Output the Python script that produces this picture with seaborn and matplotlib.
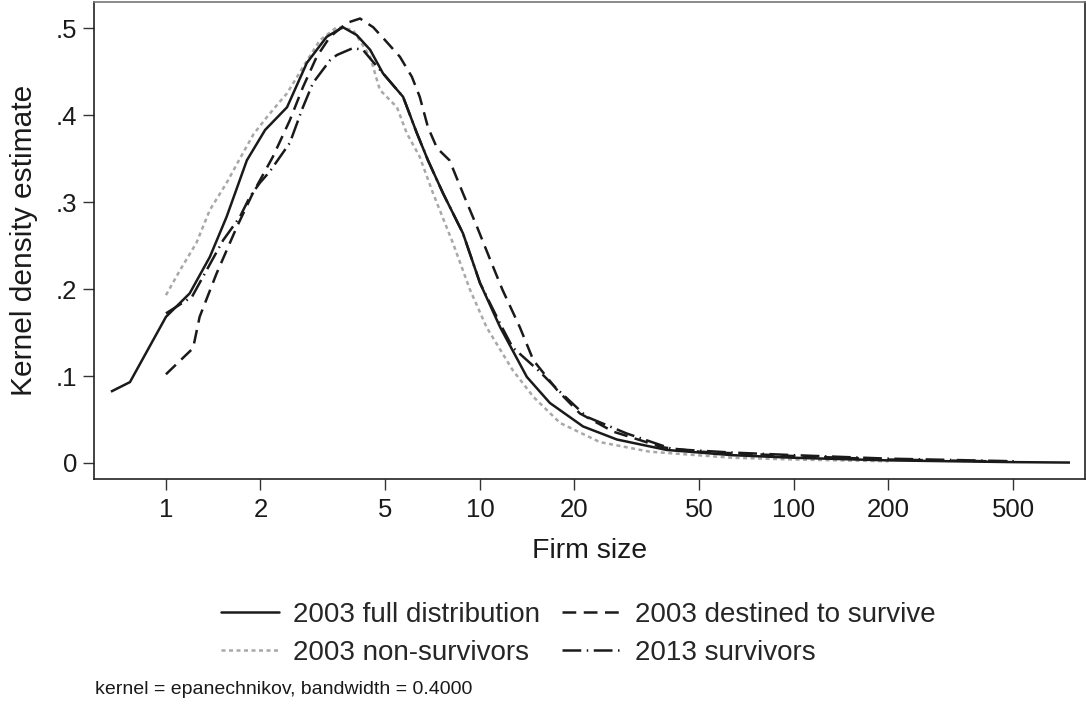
import numpy as np
import pandas as pd
import matplotlib
matplotlib.use("Agg")
import matplotlib.pyplot as plt
import seaborn as sns
from matplotlib.ticker import FixedLocator, NullLocator, FixedFormatter
from matplotlib.lines import Line2D

# ---------------- data ----------------
full_x = [0.668, 0.768, 1.0, 1.19, 1.38, 1.56, 1.81, 2.07, 2.43, 2.81, 3.25, 3.66, 4.05,
          4.47, 4.91, 5.69, 6.30, 6.83, 7.63, 8.83, 10.0, 11.6, 14.1, 16.7, 21.3, 27.3,
          39.3, 63.6, 100, 200, 500, 757]
full_y = [0.082, 0.093, 0.168, 0.195, 0.237, 0.283, 0.348, 0.383, 0.409, 0.460, 0.490, 0.501, 0.492,
          0.475, 0.448, 0.421, 0.379, 0.348, 0.310, 0.264, 0.207, 0.156, 0.099, 0.069, 0.042, 0.027,
          0.015, 0.009, 0.006, 0.003, 0.001, 0.0005]

nonsurv_x = [1.0, 1.11, 1.25, 1.38, 1.56, 1.72, 1.90, 2.10, 2.30, 2.43, 2.73, 3.09, 3.50, 3.94,
             4.47, 4.80, 5.44, 5.85, 6.43, 7.09, 8.2, 9.3, 10.5, 12.7, 14.8, 18.0, 24.1, 34.7,
             63.6, 100, 200]
nonsurv_y = [0.193, 0.222, 0.253, 0.291, 0.322, 0.350, 0.378, 0.398, 0.415, 0.425, 0.455, 0.486, 0.501, 0.498,
             0.467, 0.429, 0.409, 0.379, 0.352, 0.310, 0.253, 0.199, 0.156, 0.107, 0.076, 0.046, 0.024, 0.013,
             0.006, 0.004, 0.002]

destined_x = [1.0, 1.22, 1.28, 1.45, 1.68, 1.89, 2.19, 2.48, 2.73, 3.02, 3.33, 3.77, 4.15, 4.57,
              4.99, 5.56, 6.07, 6.43, 6.83, 7.3, 8.0, 8.83, 9.8, 10.8, 11.8, 13.4, 14.8, 17.6,
              20.8, 26.6, 38.2, 50, 100, 200, 504]
destined_y = [0.102, 0.132, 0.168, 0.218, 0.271, 0.310, 0.352, 0.394, 0.432, 0.467, 0.490, 0.506, 0.511, 0.501,
              0.486, 0.467, 0.444, 0.421, 0.386, 0.362, 0.348, 0.310, 0.271, 0.233, 0.199, 0.156, 0.118, 0.084,
              0.057, 0.036, 0.018, 0.013, 0.008, 0.004, 0.0015]

surv13_x = [1.0, 1.21, 1.52, 1.72, 1.85, 1.99, 2.14, 2.48, 2.73, 2.94, 3.33, 3.50, 3.94, 4.24,
            4.52, 4.91, 5.69, 6.30, 6.83, 7.63, 8.83, 10.0, 11.6, 12.7, 15.5, 17.6, 21.9, 29.3,
            41, 63.6, 100, 200, 504]
surv13_y = [0.172, 0.191, 0.256, 0.283, 0.306, 0.322, 0.335, 0.368, 0.409, 0.437, 0.463, 0.469, 0.477, 0.475,
            0.463, 0.448, 0.421, 0.379, 0.348, 0.310, 0.264, 0.207, 0.160, 0.133, 0.105, 0.085, 0.053, 0.034,
            0.016, 0.012, 0.009, 0.005, 0.002]

series_labels = ["2003 full distribution", "2003 destined to survive",
                 "2003 non-survivors", "2013 survivors"]
x_ticks = [1, 2, 5, 10, 20, 50, 100, 200, 500]
x_tick_labels = ["1", "2", "5", "10", "20", "50", "100", "200", "500"]
y_ticks = [0, 0.1, 0.2, 0.3, 0.4, 0.5]
y_tick_labels = ["0", ".1", ".2", ".3", ".4", ".5"]
x_title = "Firm size"
y_title = "Kernel density estimate"
note_text = "kernel = epanechnikov, bandwidth = 0.4000"

# ---------------- style ----------------
sns.set_style("ticks")
plt.rcParams["font.family"] = ["Liberation Sans", "DejaVu Sans"]

FS_TICK = 18.5
FS_TITLE = 20.5
FS_LEG = 20
fig = plt.figure(figsize=(10.86, 7.07), dpi=100)
ax = fig.add_axes([94 / 1086, 1 - 479 / 707, (1085 - 94) / 1086, (479 - 2) / 707])

black = "#1a1a1a"
gray = "#a8a8a8"
lw = 1.8

styles = {
    "2003 full distribution": dict(color=black, dashes=None),
    "2003 destined to survive": dict(color=black, dashes=(5.5, 3.0)),
    "2003 non-survivors": dict(color=gray, dashes=(1.6, 1.4)),
    "2013 survivors": dict(color=black, dashes=(7.5, 2.2, 0.6, 2.2)),
}
data_map = {
    "2003 full distribution": (full_x, full_y),
    "2003 destined to survive": (destined_x, destined_y),
    "2003 non-survivors": (nonsurv_x, nonsurv_y),
    "2013 survivors": (surv13_x, surv13_y),
}

draw_order = ["2003 non-survivors", "2003 destined to survive", "2013 survivors", "2003 full distribution"]
for name in draw_order:
    xs, ys = data_map[name]
    df = pd.DataFrame({"x": xs, "y": ys})
    st = styles[name]
    sns.lineplot(data=df, x="x", y="y", ax=ax, color=st["color"], linewidth=lw,
                 estimator=None, sort=False, legend=False)
    line = ax.lines[-1]
    if st["dashes"] is not None:
        line.set_dashes(st["dashes"])
    line.set_solid_capstyle("butt")
    line.set_dash_capstyle("butt")

ax.set_xscale("log")
ax.set_xlim(0.59, 845)
ax.set_ylim(-0.0184, 0.530)

ax.xaxis.set_major_locator(FixedLocator(x_ticks))
ax.xaxis.set_major_formatter(FixedFormatter(x_tick_labels))
ax.xaxis.set_minor_locator(NullLocator())
ax.yaxis.set_major_locator(FixedLocator(y_ticks))
ax.yaxis.set_major_formatter(FixedFormatter(y_tick_labels))

ax.tick_params(axis="both", which="major", direction="out", length=8, width=1.0,
               color="#333333", labelsize=FS_TICK, labelcolor=black)
ax.tick_params(axis="x", pad=6)
ax.tick_params(axis="y", pad=4)

for side in ["left", "bottom", "right", "top"]:
    ax.spines[side].set_visible(True)
    ax.spines[side].set_linewidth(1.2)
    ax.spines[side].set_color("#222222")
ax.spines["top"].set_color("#777777")

ax.set_xlabel(x_title, fontsize=FS_TITLE, color=black, labelpad=11)
ax.set_ylabel(y_title, fontsize=FS_TITLE + 1, color=black, labelpad=13)

# legend (column-major order so rows read: full | destined ; non-surv | 2013)
order = ["2003 full distribution", "2003 non-survivors",
         "2003 destined to survive", "2013 survivors"]
handles = []
for name in order:
    st = styles[name]
    h = Line2D([0], [0], color=st["color"], linewidth=lw)
    if st["dashes"] is not None:
        h.set_dashes(st["dashes"])
    handles.append(h)
fig.legend(handles=handles, labels=order, ncol=2, frameon=False,
           loc="center", bbox_to_anchor=(578 / 1086, 1 - 634 / 707),
           fontsize=FS_LEG, handlelength=2.1, handletextpad=0.5, columnspacing=0.8,
           labelspacing=0.42)

fig.text(95 / 1086, 1 - 690 / 707, note_text, fontsize=14, color=black,
         ha="left", va="center")

fig.savefig("out.png", dpi=100, facecolor="white")
